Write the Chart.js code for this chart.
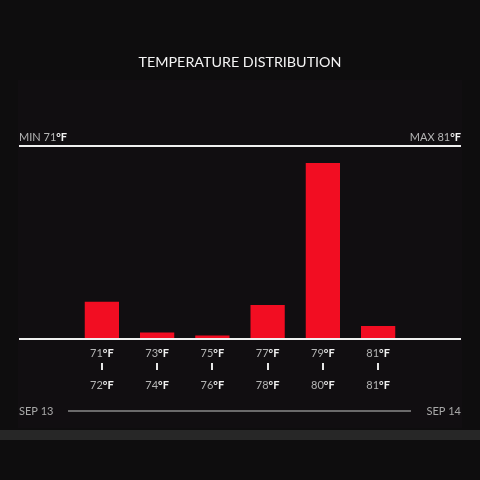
<!DOCTYPE html>
<html>
<head>
<meta charset="utf-8">
<script src="https://cdn.jsdelivr.net/npm/chart.js@4.4.0/dist/chart.umd.min.js"></script>
<style>
  html, body { margin: 0; padding: 0; background: #0e0d0e; }
  #wrap { width: 480px; height: 480px; position: relative; }
</style>
</head>
<body>
<div id="wrap"><canvas id="tempChart"></canvas></div>
<script>
// temperature ranges (low / high of each bucket) and how many readings fell in each
const lowTemps = [71, 73, 75, 77, 79, 81];
const highTemps = [72, 74, 76, 78, 80, 81];
const readings = [11.4, 2, 1.1, 10.4, 54, 4];
const yMax = 59.2;
const minTemp = 71;
const maxTemp = 81;
const startDay = 'SEP 13';
const endDay = 'SEP 14';

// one empty slot on each side so the bars sit inside the panel
const labels = [''].concat(lowTemps.map((t, i) => t + '-' + highTemps[i])).concat(['']);
const values = [null].concat(readings).concat([null]);

const FONT = 'Lato, "Noto Sans", sans-serif';

// draws "71" in grey followed by "°F" in white, anchored by align
function tempText(ctx, prefix, num, x, y, align) {
    ctx.font = '11px ' + FONT;
    const a = prefix + num;
    const wa = ctx.measureText(a).width;
    ctx.font = 'bold 11px ' + FONT;
    const wb = ctx.measureText('°F').width;
    let left = x;
    if (align === 'center') left = x - (wa + wb) / 2;
    if (align === 'right') left = x - (wa + wb);
    ctx.textAlign = 'left';
    ctx.textBaseline = 'middle';
    ctx.font = '11px ' + FONT;
    ctx.fillStyle = '#b4b4b4';
    ctx.fillText(a, left, y);
    ctx.font = 'bold 11px ' + FONT;
    ctx.fillStyle = '#f2f2f2';
    ctx.fillText('°F', left + wa, y);
}

const decor = {
    id: 'decor',
    beforeDraw(chart) {
        const ctx = chart.ctx;
        ctx.save();
        ctx.fillStyle = '#0e0d0e';
        ctx.fillRect(0, 0, chart.width, chart.height);
        ctx.fillStyle = '#110e11';
        ctx.fillRect(18, 80, 444, 348);
        ctx.fillStyle = '#272727';
        ctx.fillRect(0, 430, chart.width, 10);
        ctx.restore();
    },
    afterDraw(chart) {
        const ctx = chart.ctx;
        const area = chart.chartArea;
        const xs = chart.scales.x;
        ctx.save();

        ctx.fillStyle = '#f4f4f4';
        ctx.font = '14.3px ' + FONT;
        ctx.textAlign = 'center';
        ctx.textBaseline = 'middle';
        ctx.fillText('TEMPERATURE DISTRIBUTION', 240, 62);

        tempText(ctx, 'MIN ', minTemp, area.left, 137, 'left');
        tempText(ctx, 'MAX ', maxTemp, area.right, 137, 'right');

        lowTemps.forEach((t, i) => {
            const x = xs.getPixelForValue(i + 1);
            tempText(ctx, '', t, x, 353, 'center');
            ctx.fillStyle = '#e6e6e6';
            ctx.fillRect(Math.round(x) - 1, 363, 2, 7);
            tempText(ctx, '', highTemps[i], x, 385, 'center');
        });

        ctx.font = '11px ' + FONT;
        ctx.fillStyle = '#a8a8a8';
        ctx.textBaseline = 'middle';
        ctx.textAlign = 'left';
        ctx.fillText(startDay, area.left, 411);
        ctx.textAlign = 'right';
        ctx.fillText(endDay, area.right, 411);
        ctx.strokeStyle = '#8a8a8a';
        ctx.lineWidth = 1.5;
        ctx.beginPath();
        ctx.moveTo(68, 411);
        ctx.lineTo(411, 411);
        ctx.stroke();
        ctx.restore();
    }
};

new Chart(document.getElementById('tempChart'), {
    type: 'bar',
    data: {
        labels: labels,
        datasets: [{
            data: values,
            backgroundColor: '#f20d22',
            borderWidth: 0,
            categoryPercentage: 1,
            barPercentage: 0.62
        }]
    },
    options: {
        responsive: true,
        maintainAspectRatio: false,
        animation: false,
        layout: { padding: { left: 19, right: 19, top: 146, bottom: 141 } },
        plugins: { legend: { display: false }, tooltip: { enabled: false } },
        scales: {
            x: { display: false },
            y: {
                min: 0,
                max: yMax,
                ticks: { display: false, stepSize: yMax },
                border: { display: false },
                grid: {
                    drawTicks: false,
                    tickLength: 0,
                    lineWidth: 2,
                    color: c => (c.tick && (c.tick.value === 0 || c.tick.value === yMax)) ? '#f0f0f0' : 'transparent'
                }
            }
        }
    },
    plugins: [decor]
});
</script>
</body>
</html>
